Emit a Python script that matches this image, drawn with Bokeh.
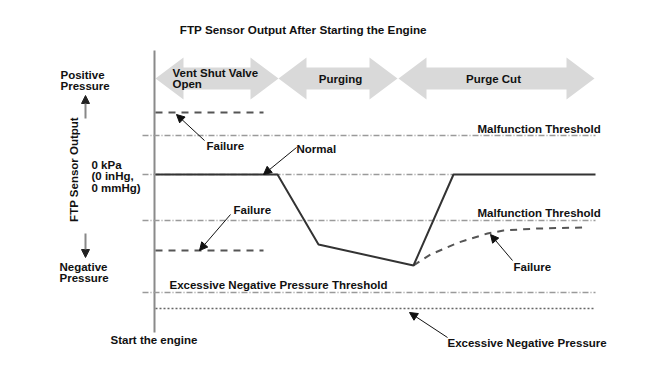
import math
from bokeh.plotting import figure
from bokeh.models import Range1d, ColumnDataSource, Arrow, NormalHead
from bokeh.core.properties import value
from bokeh.embed import file_html
from bokeh.resources import INLINE

FONT = "Liberation Sans"

# ---- data (diagram coordinates: x = time, y = sensor output, screen-like units) ----
title = "FTP Sensor Output After Starting the Engine"
phase_labels = ["Vent Shut Valve\nOpen", "Purging", "Purge Cut"]
phase_start = [155, 278, 398]
phase_end = [278, 397, 594]
phase_label_x = [172, 340, 493]
phase_label_align = ["left", "center", "center"]

t0, t_end = 155, 595
zero_level = 174
upper_malf = 135
lower_malf = 220
excess_thresh = 292
excess_level = 308
upper_fail = 112
lower_fail = 250
fail_end = 263

normal_t = [155, 277, 318, 413, 453, 595]
normal_y = [174, 174, 244, 265, 174, 174]

fail_cut_t = [413, 430, 458, 487, 503, 537, 583]
fail_cut_y = [265, 254, 242, 233, 230, 228, 227]

fig = figure(width=642, height=369, x_range=Range1d(0, 642), y_range=Range1d(369, 0),
             output_backend="svg", toolbar_location=None, min_border=0)
fig.axis.visible = False
fig.grid.visible = False
fig.outline_line_color = None
fig.background_fill_color = "white"

# phase double arrows
HL, HB, HS = 28, 21, 11
cy = 78
xs, ys = [], []
for s, e in zip(phase_start, phase_end):
    xs.append([s, s + HL, s + HL, e - HL, e - HL, e, e - HL, e - HL, s + HL, s + HL])
    ys.append([cy, cy - HB, cy - HS, cy - HS, cy - HB, cy, cy + HB, cy + HS, cy + HS, cy + HB])
fig.patches(xs, ys, fill_color="#d9d9d9", line_color=None)

def txt(x, y, t, size="11.5px", align="left", baseline="middle", bold=True, angle=0, color="#111"):
    fig.text(x=[x], y=[y], text=[t], text_font=value(FONT), text_font_size=size,
             text_font_style="bold" if bold else "normal", text_align=align,
             text_baseline=baseline, angle=angle, text_color=color, text_line_height=0.95)

for lx, lab, al in zip(phase_label_x, phase_labels, phase_label_align):
    txt(lx, 78, lab, align=al)

# vertical time axis
fig.segment(x0=[154], y0=[50], x1=[154], y1=[332], line_color="#8a8a8a", line_width=2)

# reference / threshold lines
fig.segment(x0=[142, 142, 142, 142], y0=[upper_malf, lower_malf, excess_thresh, zero_level],
            x1=[t_end, t_end, t_end, 453], y1=[upper_malf, lower_malf, excess_thresh, zero_level],
            line_color="#9a9a9a", line_width=1.5, line_dash="6 2 1 2")
fig.segment(x0=[t0], y0=[excess_level], x1=[t_end], y1=[excess_level],
            line_color="#666666", line_width=1.5, line_dash="2 2")

# failure lines
fig.segment(x0=[t0, t0], y0=[upper_fail, lower_fail], x1=[fail_end, fail_end], y1=[upper_fail, lower_fail],
            line_color="#555555", line_width=2, line_dash="7 6")
fig.line(fail_cut_t, fail_cut_y, line_color="#555555", line_width=2, line_dash="7 6")

# normal
fig.line(normal_t, normal_y, line_color="#333333", line_width=2)

# annotation arrows
arr = dict(
    x_start=[296, 204, 230, 512, 447],
    y_start=[147, 140, 214, 260, 337],
    x_end=[263, 176, 199, 490, 409],
    y_end=[174, 114, 250, 234, 312],
)
fig.add_layout(Arrow(end=NormalHead(size=8, fill_color="#111", line_color="#111"),
                     source=ColumnDataSource(arr), x_start="x_start", y_start="y_start",
                     x_end="x_end", y_end="y_end", line_color="#111", line_width=1))

# up/down pressure arrows
fig.add_layout(Arrow(end=NormalHead(size=8, fill_color="#222", line_color="#222"),
                     x_start=85, y_start=118, x_end=85, y_end=95, line_color="#888", line_width=2))
fig.add_layout(Arrow(end=NormalHead(size=8, fill_color="#222", line_color="#222"),
                     x_start=85, y_start=233, x_end=85, y_end=257, line_color="#888", line_width=2))

# texts
txt(303, 29, title, size="11.7px", align="center")
txt(60, 80, "Positive\nPressure")
txt(59, 272, "Negative\nPressure")
txt(73, 169, "FTP Sensor Output", align="center", angle=math.pi / 2)
txt(91, 176, "0 kPa\n(0 inHg,\n0 mmHg)")
txt(206, 145, "Failure")
txt(233, 209, "Failure")
txt(513, 266, "Failure")
txt(296, 148, "Normal")
txt(477, 128, "Malfunction Threshold")
txt(477, 212, "Malfunction Threshold")
txt(169, 284, "Excessive Negative Pressure Threshold")
txt(447, 342, "Excessive Negative Pressure")
txt(110, 339, "Start the engine")

open("out.html", "w").write(file_html(fig, INLINE))
